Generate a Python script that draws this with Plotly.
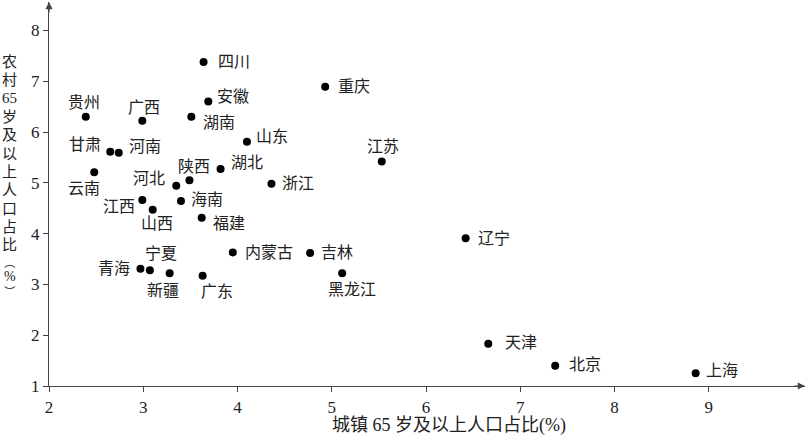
import plotly.graph_objects as go

# 各省城镇 / 农村 65 岁及以上人口占比(%)
provinces = ['四川', '重庆', '贵州', '广西', '安徽', '湖南', '山东', '江苏', '甘肃', '河南',
             '云南', '湖北', '陕西', '河北', '浙江', '江西', '海南', '山西', '福建', '内蒙古',
             '吉林', '青海', '宁夏', '新疆', '广东', '黑龙江', '辽宁', '天津', '北京', '上海']
urban = [3.64, 4.93, 2.39, 2.99, 3.69, 3.51, 4.10, 5.53, 2.65, 2.74,
         2.48, 3.82, 3.49, 3.35, 4.36, 2.99, 3.40, 3.10, 3.62, 3.95,
         4.77, 2.97, 3.07, 3.28, 3.63, 5.11, 6.42, 6.66, 7.37, 8.86]
rural = [7.38, 6.89, 6.30, 6.22, 6.60, 6.30, 5.81, 5.42, 5.61, 5.59,
         5.21, 5.27, 5.05, 4.94, 4.98, 4.66, 4.64, 4.47, 4.31, 3.63,
         3.62, 3.31, 3.28, 3.22, 3.17, 3.22, 3.91, 1.83, 1.40, 1.25]
x_ticks = [2, 3, 4, 5, 6, 7, 8, 9]
y_ticks = [1, 2, 3, 4, 5, 6, 7, 8]

# 标签位置 (锚点, x 偏移, y 偏移) 像素
label_pos = {
    '四川': ('left', 12, 0), '重庆': ('left', 11, 0), '贵州': ('center', -2, 14),
    '广西': ('center', 2, 13), '安徽': ('left', 7, 5), '湖南': ('left', 10, -6),
    '山东': ('left', 7, 5), '江苏': ('center', 1, 15), '甘肃': ('right', -7, 7),
    '河南': ('left', 8, 6), '云南': ('center', -10, -16), '湖北': ('left', 8, 7),
    '陕西': ('center', 5, 14), '河北': ('right', -9, 7), '浙江': ('left', 9, 0),
    '江西': ('right', -5, -6), '海南': ('left', 8, 2), '山西': ('center', 4, -14),
    '福建': ('left', 9, -6), '内蒙古': ('left', 10, 0), '吉林': ('left', 9, 0),
    '青海': ('right', -8, 0), '宁夏': ('center', 11, 17), '新疆': ('center', -7, -17),
    '广东': ('center', 14, -16), '黑龙江': ('center', 10, -16), '辽宁': ('left', 10, 0),
    '天津': ('left', 15, 1), '北京': ('left', 12, 1), '上海': ('left', 8, 3),
}

FONT = 'Liberation Serif, Noto Sans CJK SC, serif'
INK = '#222222'
PLOT_TOP, PLOT_H = 2, 384  # 绘图区在页面中的位置(像素)

fig = go.Figure(go.Scatter(
    x=urban, y=rural, mode='markers',
    marker=dict(size=8, color='black'),
    hovertext=provinces, showlegend=False,
))

annotations = []
for name, xv, yv in zip(provinces, urban, rural):
    anchor, dx, dy = label_pos[name]
    annotations.append(dict(
        x=xv, y=yv, text=name, showarrow=False,
        xanchor=anchor, yanchor='middle', xshift=dx, yshift=dy,
        font=dict(family=FONT, size=16, color=INK),
    ))

# 纵轴标题 (竖排, 逐字放置)
y_title = ['农', '村', '65', '岁', '及', '以', '上', '人', '口', '占', '比',
           '︵<br><span style="font-size:14px">%</span><br>︶']
y_title_px = [62, 80, 98, 117, 135, 154, 172, 190, 209, 227, 245, 277]
y_title_size = [15] * 11 + [11]
for ch, py, sz in zip(y_title, y_title_px, y_title_size):
    annotations.append(dict(
        x=-0.052, y=(PLOT_TOP + PLOT_H - py) / PLOT_H, xref='paper', yref='paper',
        showarrow=False, text=ch, xanchor='center', yanchor='middle',
        font=dict(family=FONT, size=sz, color=INK),
    ))

annotations.append(dict(
    x=0.529, y=-0.104, xref='paper', yref='paper', showarrow=False,
    text='城镇 65 岁及以上人口占比(%)', xanchor='center', yanchor='middle',
    font=dict(family=FONT, size=18, color=INK),
))

# 坐标轴箭头
annotations.append(dict(x=1, y=0, xref='paper', yref='paper', ax=-12, ay=0,
                        text='', showarrow=True, arrowhead=2, arrowsize=1.2,
                        arrowwidth=1.2, arrowcolor='#444444'))
annotations.append(dict(x=0, y=1, xref='paper', yref='paper', ax=0, ay=12,
                        text='', showarrow=True, arrowhead=2, arrowsize=1.2,
                        arrowwidth=1.2, arrowcolor='#444444'))

axis_style = dict(
    showline=True, linecolor='#444444', linewidth=1.3, showgrid=False,
    zeroline=False, ticks='outside', ticklen=5, tickwidth=1, tickcolor='#444444',
    tickfont=dict(family=FONT, size=17, color=INK),
)

fig.update_layout(
    width=807, height=438,
    margin=dict(l=49, r=2, t=PLOT_TOP, b=438 - PLOT_TOP - PLOT_H),
    paper_bgcolor='white', plot_bgcolor='white',
    xaxis=dict(range=[2, 10.02], tickvals=x_ticks, **axis_style),
    yaxis=dict(range=[1, 8.56], tickvals=y_ticks, **axis_style),
    annotations=annotations,
)

fig.write_html("out.html", config={'displayModeBar': False},
               post_script="document.body.style.margin='0';")
